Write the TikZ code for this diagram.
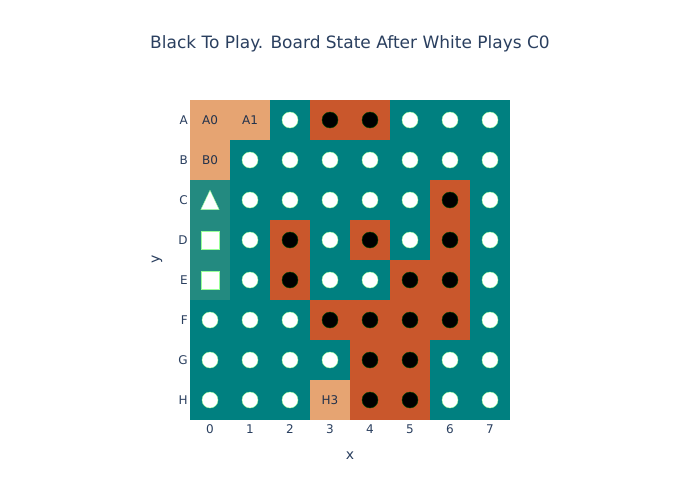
\documentclass[tikz,border=0pt]{standalone}
\usepackage{fontspec}
\setmainfont{DejaVu Sans}
\usepackage{tikz}
\usepackage{xcolor}
\usetikzlibrary{shapes.geometric}

\definecolor{inkblue}{HTML}{2A3F5F}
\definecolor{boardteal}{HTML}{008080}
\definecolor{lastteal}{HTML}{238A80}
\definecolor{stonered}{HTML}{C9572C}
\definecolor{emptyorange}{HTML}{E6A472}

\begin{document}
\begin{tikzpicture}[
    x=0.75pt, y=-0.75pt,
    cell/.style={draw=none, minimum size=30pt, inner sep=0pt, outer sep=0pt},
    fillW/.style={fill=boardteal}, fillB/.style={fill=stonered},
    fillL/.style={fill=emptyorange}, fillT/.style={fill=lastteal}, fillS/.style={fill=lastteal},
    markW/.style={circle, fill=white, draw=green!40!white, line width=0.3pt, minimum size=12pt, inner sep=0pt, node contents={}},
    markB/.style={circle, fill=black, draw=green!30!black, line width=0.3pt, minimum size=12pt, inner sep=0pt, node contents={}},
    markT/.style={regular polygon, regular polygon sides=3, fill=white, draw=green!40!white, line width=0.3pt, minimum size=15.9pt, inner sep=0pt, yshift=-2.4pt, yscale=1.22, node contents={}},
    markS/.style={rectangle, fill=white, draw=green!40!white, line width=0.3pt, minimum size=13.5pt, inner sep=0pt, node contents={}},
    markL/.style={text=inkblue!80!black, font=\fontsize{9}{10}\selectfont, inner sep=0pt, node contents={\r\j}},
    tick/.style={text=inkblue, font=\fontsize{9}{10}\selectfont, inner sep=0pt},
    axistitle/.style={text=inkblue, font=\fontsize{10.5}{12}\selectfont, inner sep=0pt}
]
\useasboundingbox (0,0) rectangle (700,500);
\node[text=inkblue, font=\fontsize{12.75}{15}\selectfont] (title) at (350,44) {Black To Play. Board State After White Plays C0};
% board cells and stones
\foreach \r/\cells [count=\i from 0] in {
    A/{L,L,W,B,B,W,W,W}, B/{L,W,W,W,W,W,W,W},
    C/{T,W,W,W,W,W,B,W}, D/{S,W,B,W,B,W,B,W},
    E/{S,W,B,W,W,B,B,W}, F/{W,W,W,B,B,B,B,W},
    G/{W,W,W,W,B,B,W,W}, H/{W,W,W,L,B,B,W,W}}{
  \node[tick, anchor=east] (row\r) at (188,120+40*\i) {\r};
  \foreach \c [count=\j from 0] in \cells {
    \node[cell, fill\c] (\r\j) at (210+40*\j,120+40*\i) {};
    \node at (\r\j) [mark\c];
  }
}
% column ticks
\foreach \j in {0,...,7}
  \node[tick] (col\j) at (210+40*\j,429) {\j};
\node[axistitle] (xlabel) at (350,456) {x};
\node[axistitle, rotate=90] (ylabel) at (157,259) {y};
\end{tikzpicture}
\end{document}
